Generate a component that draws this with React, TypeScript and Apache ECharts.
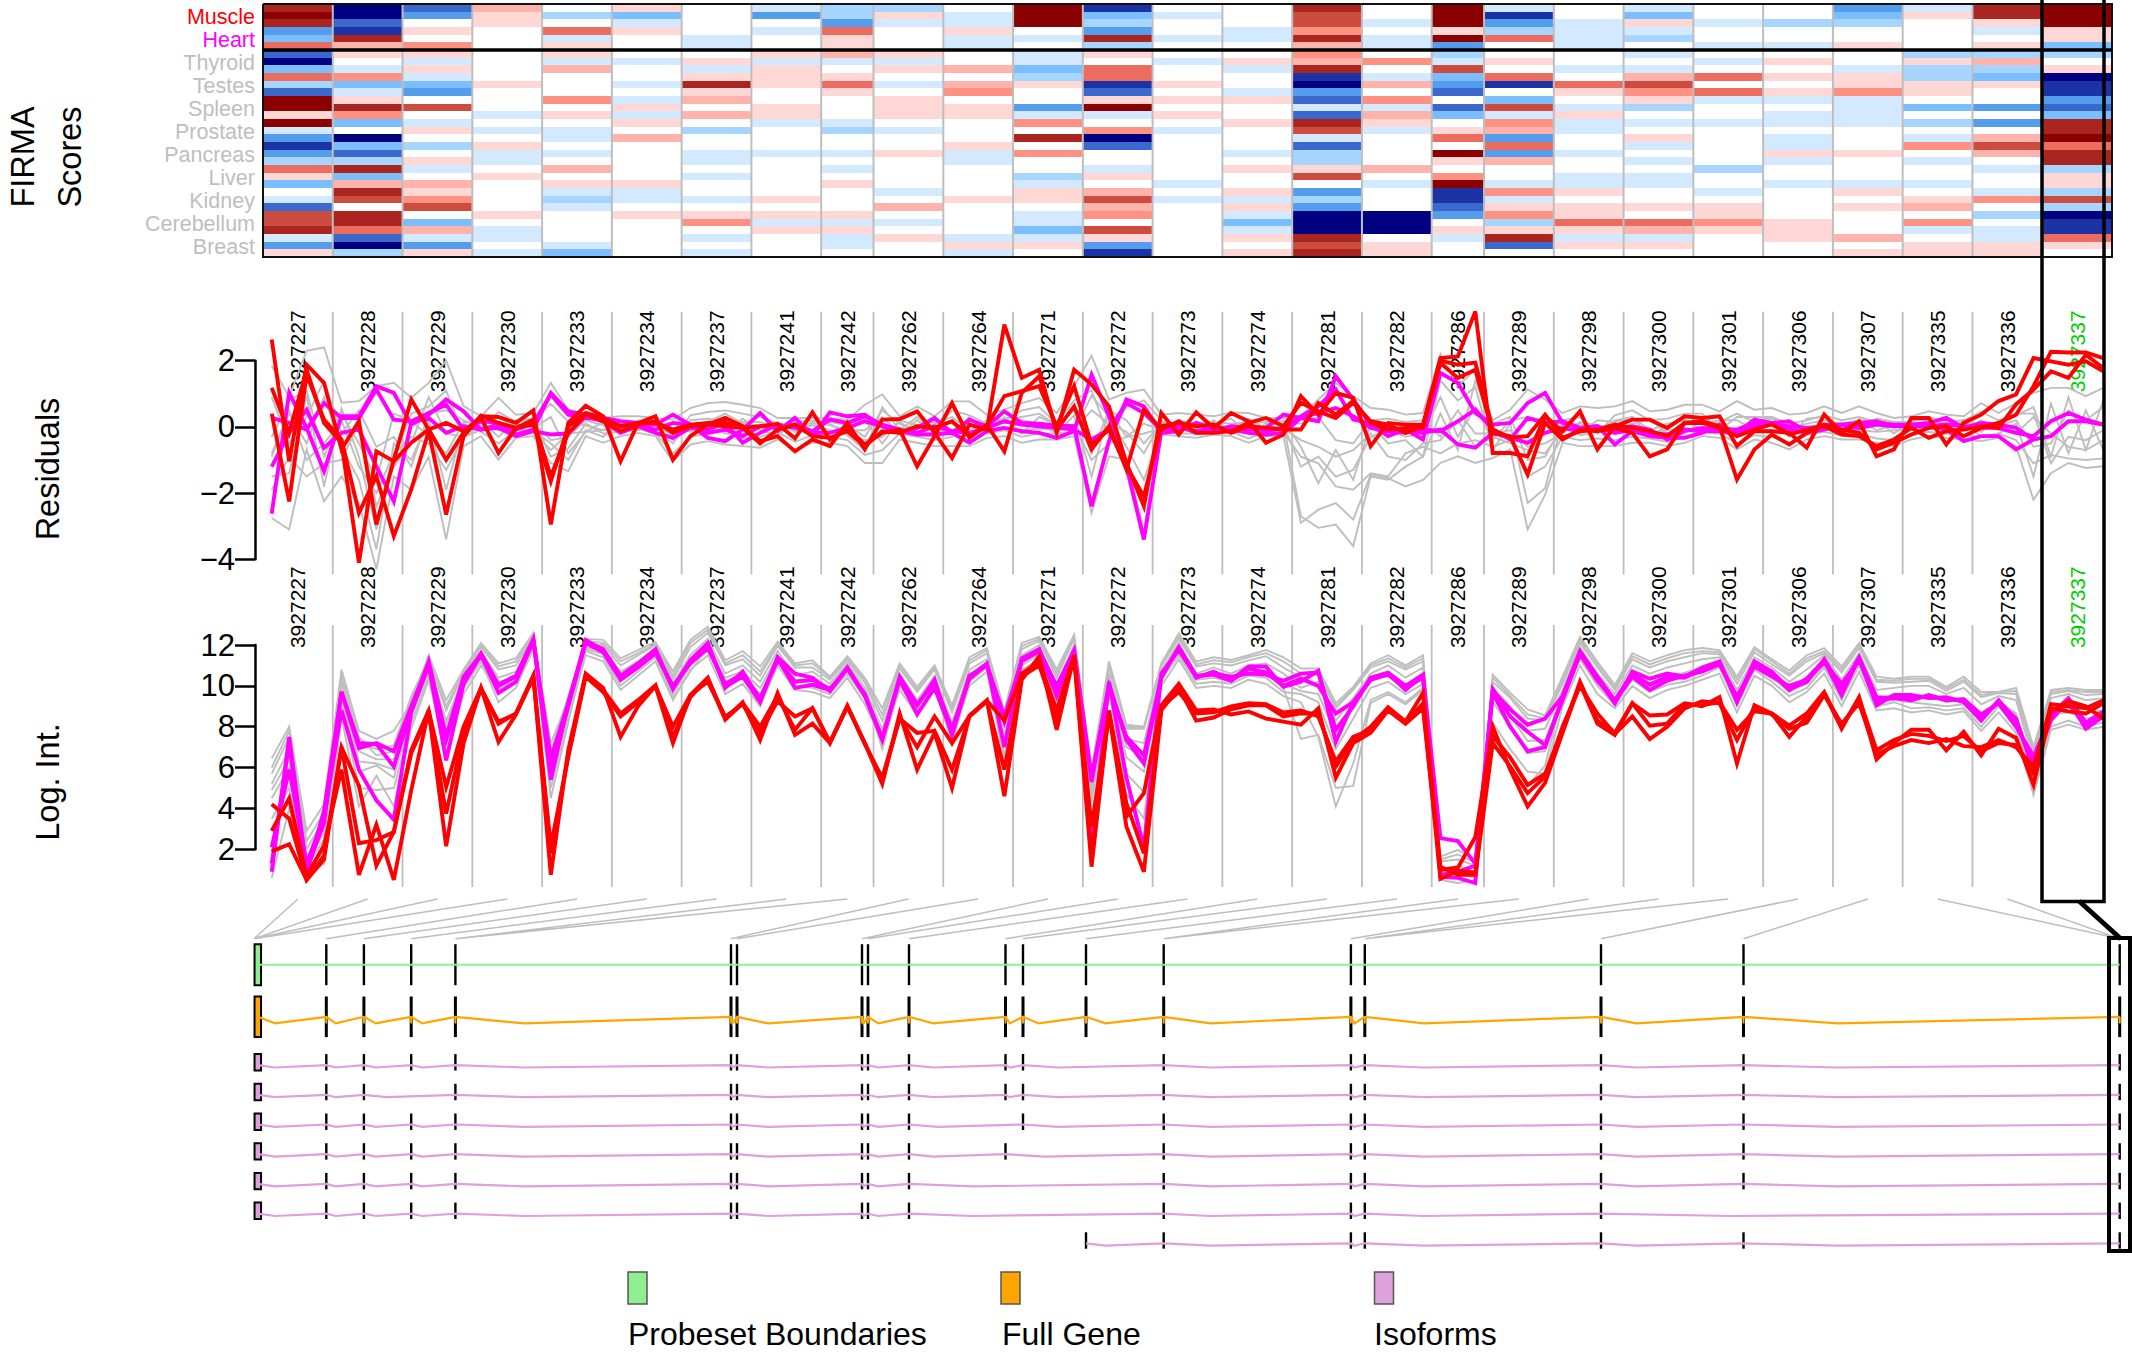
import React, { useEffect, useRef } from "react";
import * as echarts from "echarts";

const probesetIds = ["3927227","3927228","3927229","3927230","3927233","3927234","3927237","3927241","3927242","3927262","3927264","3927271","3927272","3927273","3927274","3927281","3927282","3927286","3927289","3927298","3927300","3927301","3927306","3927307","3927335","3927336","3927337"];
const probesPerSet = [4,4,4,4,4,4,4,4,3,4,4,4,4,4,4,4,4,3,4,4,4,4,4,4,4,4,4];
const tissues = ["Muscle","Heart","Thyroid","Testes","Spleen","Prostate","Pancreas","Liver","Kidney","Cerebellum","Breast"];
const tissueColors = ["#FF0000","#FF00FF","#BEBEBE","#BEBEBE","#BEBEBE","#BEBEBE","#BEBEBE","#BEBEBE","#BEBEBE","#BEBEBE","#BEBEBE"];
const residualTicks = [-4,-2,0,2];
const intensityTicks = [2,4,6,8,10,12];

// FIRMA level per probeset column (33 samples, 3 per tissue)
const firma = [
[6,7,6,-4,-3,4,-5,-7,-3,4,-2,-5,7,7,1,7,-1,-4,-6,-4,-2,4,1,-3,0,-1,-5,5,5,6,-1,-4,1],
[-7,-7,-5,-6,6,2,1,0,-1,3,-3,-1,1,6,3,-3,0,-7,-3,-5,-2,6,-3,2,6,5,0,6,6,4,-5,-7,-2],
[-5,-4,0,1,0,3,1,-1,1,-1,-3,-4,0,5,0,-1,1,0,-2,0,1,-1,0,2,1,3,5,0,-3,2,-1,-4,1],
[2,1,1,0,0,0,0,0,0,0,1,0,0,0,-1,0,-1,0,1,-1,-1,0,1,0,0,0,0,1,0,-1,-1,0,-1],
[0,-2,0,4,-1,1,1,-1,2,0,0,0,3,0,1,0,-1,-1,0,-1,0,2,0,1,-1,-2,-1,0,0,0,0,-1,-3],
[1,-3,-1,1,0,0,0,-1,0,0,-1,0,-1,1,-1,1,0,2,0,0,0,0,0,1,-1,-1,0,1,0,0,0,0,0],
[0,0,0,0,-1,-1,0,1,-1,1,6,1,2,0,2,0,-2,0,0,-1,-1,0,-1,0,0,-1,0,1,3,0,-1,0,-1],
[-1,-4,0,-1,0,0,1,-1,1,1,1,0,0,1,1,-1,0,0,0,-1,0,0,0,0,0,1,0,1,-1,1,0,0,0],
[-2,-2,-4,4,1,1,2,-1,0,1,4,1,0,0,0,-1,-2,0,0,-1,0,-1,0,1,0,0,0,1,-1,1,-1,-1,0],
[-2,1,-1,0,0,0,1,-1,1,0,-1,0,1,1,1,0,-1,0,0,1,0,0,0,0,-1,0,2,0,-1,0,1,0,0],
[0,-1,-1,1,-1,-1,0,0,2,0,2,3,0,1,1,0,0,0,1,-1,-1,0,0,0,0,1,0,0,0,0,-1,1,-1],
[7,7,7,0,-1,0,-1,-1,-3,-2,1,0,0,-4,-1,3,0,6,0,3,0,0,-2,-1,1,1,0,-1,-1,-3,-1,1,0],
[-6,-3,-2,-4,6,-2,1,0,4,4,-6,-5,1,7,-1,0,3,-7,-5,0,0,-1,1,0,2,5,2,3,0,5,1,-4,-6],
[0,-1,0,0,-1,0,0,-1,0,0,1,0,1,0,1,0,-1,0,0,0,0,0,0,-1,0,-1,0,0,0,0,0,0,0],
[0,0,0,-1,-1,0,0,1,-1,0,0,-1,1,0,0,1,0,0,0,-1,0,1,0,0,1,-1,1,-1,-3,-1,1,0,1],
[6,5,5,3,6,2,3,2,6,-6,-7,-4,-5,-1,-5,6,5,-1,-5,-2,-2,1,5,0,-4,-2,-4,-7,-7,-7,6,5,6],
[0,0,-1,0,-1,-1,0,3,0,-1,2,0,3,-1,2,1,-1,0,0,0,0,2,0,-1,0,0,0,-7,-7,-7,0,1,1],
[7,7,7,1,7,-4,-2,-1,5,-3,-4,-5,0,-5,-3,0,1,4,0,7,1,0,3,7,-6,-6,-5,-4,0,1,-1,0,0],
[-1,-6,-4,-2,4,0,0,1,0,4,-6,0,-3,5,-1,3,2,-4,4,-4,2,0,0,-1,3,-1,1,3,-2,1,6,-5,0],
[0,0,-1,-1,-1,-1,0,0,-1,0,4,1,0,-1,1,-1,-1,0,0,-1,0,0,-1,-1,1,0,1,1,4,1,-1,1,0],
[-1,-3,1,-1,-2,0,-1,0,-1,2,5,3,1,-2,0,-1,0,1,-1,0,-1,0,-1,-1,0,0,1,0,4,2,-1,1,0],
[0,0,-1,0,0,-1,0,-1,0,4,0,4,-1,0,0,-1,0,0,0,0,0,-2,0,0,-1,0,1,1,3,1,0,0,0],
[0,0,-2,0,0,-1,0,1,0,1,0,1,-1,0,-1,-1,0,-1,-1,1,-1,0,0,-1,0,0,0,0,1,1,1,0,0],
[-4,-3,-2,0,0,1,0,0,-1,1,1,3,-1,-1,-1,-1,0,0,0,1,0,0,0,-1,1,0,1,0,0,0,2,0,1],
[-1,1,0,0,0,0,-2,1,-2,-2,1,1,0,-3,0,-2,0,-1,3,0,-1,0,0,-1,0,1,2,0,3,-1,0,1,1],
[6,6,1,-1,0,1,-2,2,-2,-3,1,0,0,-4,0,-4,0,2,5,2,0,-1,0,0,-1,3,0,-2,0,-1,-1,1,1],
[7,7,7,1,1,-3,-2,0,1,-7,-6,-6,-4,-5,-3,6,6,7,4,6,6,-2,1,1,-2,5,-2,-7,-6,-6,4,1,0],
];
const firmaPalette: Record<string,string> = {"-7":"#000080","-6":"#1C33A6","-5":"#3A68CC","-4":"#549DEC","-3":"#7ABEFF","-2":"#A6D5FF","-1":"#D2E9FF","0":"#FFFFFF","1":"#FFD8D6","2":"#FFB3AB","3":"#FF9183","4":"#EC6C5F","5":"#CC4C40","6":"#AA2520","7":"#8B0000"};

// Residuals, one value per probe
const resRed1 = [2.64,-1.04,1.88,1.33, -.68,.17,-2.95,-.99, .83,-.08,-.99,-.18, .32,.3,.12,.5, -2.95,.12,.64,.32, -1.04,.12,.32,-.99, -.28,.07,.27,.02, -.43,-.28,-.74,-.38, -.58,.12,-.68, .22,.24,.47,-.18, -.94,.07,-.08,3.09, 1.48,1.73,-.18,1.73, 1.28,.62,-1.09,-2.4, .42,-.23,.44,-.03, .42,.17,-.48,-.23, .93,.37,1.03,.88, -.58,.12,.07,.07, 2.08,2.13,3.49, -.79,-.79,-.89,.32, -.13,.47,-.68,.02, .22,.22,-.03,.32, .27,.32,-.58,-.13, -.13,-.18,-.63,.37, -.18,.17,-.89,-.68, .27,.27,-.53,.12, .37,.78,.98,2.08, 1.98,1.88,1.98,1.68];
const resRed2 = [1.18,-.18,1.73,.12, -.48,-4.1,-.74,-1.04, -.48,-.08,.12,-.13, .27,-.79,-.03,.07, -1.65,.02,.42,.27, .02,.12,.12,-.08, .07,.12,.12,-.03, .02,.09,-.35,.44, -.38,-.03,-.53, -.18,-.08,-1.19,-.28, .72,-.33,.07,-.74, 1.03,1.53,-.08,.62, -.68,.02,-1.29,.52, -.08,.17,-.18,-.18, -.13,.12,.27,.02, .73,.47,.27,.73, .17,.07,-.18,.02, 1.93,1.48,1.73, -.18,-.28,-1.44,.12, -.38,-.08,-.13,-.03, -.18,-.89,-.68,.12, .17,.02,-1.59,-.68, -.23,-.53,-.18,.07, -.08,-.18,-.68,-.48, -.23,-.03,.02,-.28, -.03,.12,.37,1.23, 2.27,2.25,2.25,2.08];
const resRed3 = [.4,-2.25,1.58,.22, -.38,-2.6,-1.49,-3.3, -1.89,-.13,-2.65,-.28, .34,.12,-.03,.22, -1.49,-.18,.37,.17, -.13,.07,.17,-.18, .02,.07,.02,-.03, -.5,-.08,.07,-.28, -.33,-.13,-.58, -.13,-.18,.02,-.03, .17,-.28,.02,.93, 1.08,1.23,.02,1.23, -.53,-.08,-1.19,-2.1, .02,.12,.02,.07, -.18,.02,-.03,-.08, -.08,.72,.37,.78, .12,-.08,-.03,-.03, 2.0,1.88,1.94, -.08,-.33,-.28,.37, -.33,-.13,-.08,.07, -.03,-.13,-.28,.12, .12,-.03,-.28,-.08, .08,-.23,-.08,.02, -.23,-.28,-.58,-.38, -.03,-.33,-.13,-.08, .02,-.03,.68,1.13, 1.68,1.48,2.18,1.78];
const resMag1 = [-2.62,1.03,-.03,-1.34, .32,.32,1.23,1.03, .07,.37,.83,.47, -.08,.07,-.23,-.08, 1.03,.47,.37,.27, .17,.12,.07,.37, .07,-.33,-.43,-.08, .42,-.13,.27,-.28, .44,.32,.37, .02,-.18,-.03,.27, -.18,.22,.02,.47, .12,.1,.04,.02, -2.4,-.43,.83,.62, -.18,-.13,.12,-.08, -.03,-.08,-.03,.37, .27,.17,1.53,.83, .07,-.28,-.08,-.38, 1.63,1.33,.42, .07,.12,.72,1.03, .12,-.03,.02,-.53, -.13,-.28,-.33,-.33, -.18,.07,-.18,.22, .12,.17,-.13,.07, .07,.12,.17,.02, .07,.02,-.08,-.43, -.28,-.28,-.68,-.38];
const resMag2 = [-1.2,-.18,.52,-.63, -.18,-.08,-1.19,-2.25, .13,.27,-.18,.02, -.08,-.03,-.28,-.13, -.23,-.2,.32,.17, -.18,.02,-.18,-.33, -.03,-.08,.12,-.48, -.18,.07,-.03,-.18, -.18,-.03,.17, .02,-.13,-.23,-.23, -.18,-.48,-.13,-.03, -.13,-.18,-.33,-.13, 1.58,.32,-1.19,-3.4, -.13,-.03,-.13,-.03, -.08,-.18,-.23,-.18, .27,.42,.57,.32, -.03,-.13,-.18,-.08, -.13,.17,.52, -.08,-.38,.27,.12, .17,-.03,.02,-.18, -.08,-.18,-.23,-.08, -.13,-.13,-.23,.02, .12,-.08,-.18,-.08, .07,-.03,.07,.02, .02,.02,.07,.02, -.03,-.03,-.18,-.28, .17,.42,.22,.07];
const resMag3 = [.27,.12,-.08,.72, .27,.27,1.13,.22, .17,.42,.67,-.08, .17,.12,-.08,.12, .98,.37,.27,.22, .02,.07,-.08,.12, .07,-.18,-.08,-.28, .02,-.03,.07,-.13, .22,.12,.32, .07,-.08,-.18,.02, -.13,-.18,-.03,.17, .07,.02,-.03,-.08, -.38,-.08,.72,.42, -.08,.02,-.18,-.13, .02,-.03,-.13,-.03, .32,.62,1.13,.22, .12,-.03,-.13,-.18, -.08,-.53,-.63, -.18,-.33,-.48,-.18, -.03,-.13,-.03,-.08, .02,-.08,-.38,-.13, -.03,-.08,-.08,.12, .07,.02,-.03,.02, -.08,.02,.12,.07, .07,.12,.27,-.03, .12,.07,-.03,-.38, -.28,.17,.17,.07];
const resGray1 = [1.85,.9,2.3,2.4, .73,.78,1.23,1.33, .88,1.33,2.0,.63, .32,.88,.37,.42, 1.33,.52,.37,.27, .32,.32,.27,.22, .57,.72,.75,.67, .57,.27,.27,.27, .27,.22,.67, .98,.32,.62,.32, .77,.77,.37,.52, .72,.87,.42,1.23, 2.15,.83,1.03,1.13, .37,.42,.37,.32, .44,.42,.27,.27, .32,.83,1.33,.93, .57,.52,.37,.42, 2.2,1.23,1.73, .2,.52,1.13,.83, .42,.62,.57,.62, .78,.47,.52,.67, .67,.47,.78,.52, .57,.37,.42,.62, .42,.62,.42,.27, .32,.47,.37,.32, .72,.42,.72,1.03, 1.18,1.18,.93,1.18];
const resGray2 = [-2.75,-3.1,-.68,-2.25, -1.5,-2.3,-4.3,-1.5, -1.9,-.9,-3.4,-.58, -.28,-.99,-.33,-.28, -1.09,-1.34,-.28,-.48, -.28,-.18,-.28,-1.04, -.53,-.43,-.53,-.58, -.63,-.38,-.68,-.48, -.48,-.58,-1.09, -1.09,-.38,-.48,-.58, -.58,-.58,-.33,-.28, -.48,-.38,-.38,-.28, -2.6,-.89,-.99,-3.1, -.23,-.28,-.33,-.23, -.28,-.48,-.28,-.28, -2.9,-2.5,-2.3,-2.8, -1.45,-1.55,-1.8,-1.6, -1.09,-.89,-1.09, -.94,-.68,-3.1,-2.05, -.48,-.58,-.58,-.58, -.48,-.48,-.58,-.48, -.28,-.33,-.68,-.38, -.48,-.68,-.38,-.28, -.38,-.38,-.48,-.58, -.38,-.28,-.33,-.38, -.43,-.33,-.58,-2.2, -1.4,-1.09,-1.24,-1.19];
const resGray3 = [-1.5,-1.4,.95,-1.8, .55,-.9,-3.1,-.95, .4,.62,1.1,-.28, .2,-.3,.2,.25, -.9,-.65,.1,-.2, -.15,.2,.05,-.4, .35,.45,.5,.4, .3,.1,-.3,.1, .1,-.25,-.7, .6,-.1,.3,-.1, .5,.35,.1,.2, .5,.6,.1,.8, 1.1,-.3,.6,.8, .2,-.1,.15,.1, .25,-.2,.1,.1, -2.7,-3.05,-2.95,-3.6, -1.5,-1.6,-1.2,-.9, 1.4,.8,1.2, -.7,.1,-2.3,-1.85, .2,.3,-.2,.35, .5,.2,.25,.4, .4,-.1,.3,.3, .3,.1,.2,.35, .2,.3,.15,.15, .15,.3,.15,.2, .45,.2,.35,.6, -.9,.9,-.7,.8];
const resGray4 = [-.8,.4,-.5,.9, -.6,-1.6,-3.7,-.5, -1,.2,-1.9,.1, -.15,-.5,-.1,-.1, -.5,-1,-.1,-.3, .15,-.05,-.2,-.8, -.3,-.2,.3,-.35, -.3,-.15,-.45,-.25, -.3,-.4,-.85, -.7,-.2,-.3,-.4, -.3,.3,-.2,-.1, -.3,-.2,-.2,-.15, .95,.3,-.6,-1.6, -.1,-.2,-.2,-.1, -.15,-.35,-.15,-.15, -.9,-1.1,-1.8,-1.9, -1.4,-1.5,-.8,-.6, -.8,-.5,-.4, -.6,-.4,-1.5,-1.2, -.3,-.4,-.35,-.4, -.3,-.35,-.45,-.3, -.15,-.2,-.5,-.25, -.3,-.5,-.25,-.15, -.25,-.2,-.35,-.4, -.25,-.15,-.2,-.25, -.3,-.2,-.4,-1.1, -.85,-.95,-1,-.95];
const resGray5 = [-.3,.8,1.1,-.9, .4,-.5,-1.6,.4, .2,-.3,-.8,.15, .1,.3,-.05,.15, -.4,-.3,.2,.05, -.05,.15,-.1,-.5, .2,.25,.2,.15, .15,-.1,.05,-.1, .15,.05,-.3, .5,.1,-.15,.1, .3,-.1,.15,.25, .3,.4,.05,.5, -.8,.5,.2,-.5, .1,.1,-.05,.15, .1,.15,-.1,.05, -1.2,-.9,-1.5,-1.3, -.3,-.1,-.3,-.2, .9,-.3,.6, -.4,.2,.3,.2, .1,-.2,.2,.15, .3,-.1,.1,.2, .1,.2,.2,-.1, .15,-.1,.1,.2, .1,.2,-.1,.05, .1,.1,.05,.1, .1,.05,.2,-.6, -.5,.5,.2,.6];
const resGray6 = [-1.9,-.9,-1.5,-1.1, -1,.1,-2.4,-1.2, -.5,.9,-.2,-.3, .05,-.1,.1,-.05, .3,-.8,-.15,-.1, .05,-.1,.05,-.25, -.1,.05,-.2,-.2, -.2,.05,-.1,.05, -.1,-.2,-.4, -.3,.15,-.2,-.2, -.2,.05,-.1,0, -.1,-.05,-.1,.05, -1,-.5,-.3,-.2, -.05,-.1,.1,-.1, -.1,-.1,.05,-.05, -.4,-.6,-.9,-.7, -.2,-.9,-1,-.5, -.4,.2,-.6, -.3,-.5,-.7,-.8, -.1,.1,-.1,-.2, -.1,-.2,-.1,-.1, -.05,-.1,-.15,-.1, -.1,-.2,-.05,.05, -.05,-.1,-.15,-.1, -.1,-.05,-.05,-.1, .2,-.1,-.2,.3, -.2,-.6,-.7,-.4];
const resGray7 = [.9,-.5,.3,1.4, -.2,.5,-.6,-.3, -1.2,.4,.5,.2, -.05,.45,.15,.2, .7,.15,.05,-.1, .1,-.1,.1,.1, -.15,.15,.4,.1, .05,.15,-.15,.15, -.2,.1,.2, -.5,.2,.05,.15, .1,-.25,.2,.1, .2,.1,-.2,.35, -1.5,.5,-.3,.1, -.1,.2,.1,-.05, .05,.1,.15,.1, .1,.3,-.4,-.5, .2,.25,.15,.2, -.3,.5,-.2, -.2,-.1,-.6,-.5, -.2,.15,.05,-.1, .1,.25,-.2,.1, .2,.1,-.2,.1, .25,.15,-.1,.1, .1,.2,.2,-.2, .2,.2,.1,.2, -.15,.2,.4,.4, -1.1,-.3,-.4,-.1];
const resGray8 = [-.9,.5,-1,-.5, .2,-1.2,-2,-.8, -.3,-.5,-1.3,-.3, -.1,.1,.05,-.15, -.7,-.2,-.15,.15, -.1,.05,.2,-.1, .1,-.1,-.15,.25, -.1,-.25,.15,.2, .05,-.1,-.1, .3,-.2,.2,-.15, -.1,.1,-.1,.3, -.2,.3,.05,-.1, .5,.1,-.15,-.8, .15,.05,-.05,.2, -.1,.25,-.05,.2, -.6,-1.7,-.7,-1.6, .1,-.5,-.4,-.9, .4,-.7,1.4, .1,.3,-1,-.9, .05,-.25,-.15,.2, .3,-.3,.05,.25, -.1,.15,.4,.15, .3,-.3,.25,.3, -.1,-.15,.25,.15, -.1,.25,-.2,.2, -.3,-.2,.1,-1.5, .7,-.8,.5,-.7];

// Log intensities, one value per probe
const logRed1 = [4.2,3.5,.5,1.5, 7,2.3,2.45,2.85, 6.85,8.8,5.05,8, 9.9,8.15,8.65,10.5, .75,6.85,10.6,9.9, 7.5,9,10,7.2, 9.55,10.4,8.4,9.2, 7.35,9.65,7.6,8.15, 7.2,9,7.2, 5.2,8.65,5.9,7.7, 5,8.55,9.3,4.6, 10.3,11.45,7.85,11.45, 1.15,8.8,3.6,4.75, 9.05,10.1,8.8,8.85, 8.6,8.75,8.4,8.25, 8.1,8.9,5.5,7.2, 7.7,8.8,8.15,8.9, 1,1.1,2.6, 8,5.9,4.1,5.25, 7.7,10.1,8.15,7.6, 9.15,8.55,8.6,9.15, 9,9.45,6.2,9.05, 8.65,7.5,8.5,9.65, 7.9,9.45,6.4,7.2, 7.85,7.85,6.85,7.75, 6.6,7.9,7.45,5.15, 8.75,9.25,9,8.4];
const logRed2 = [2.9,4.5,.7,2.2, 5.9,.75,3.2,.5, 4.9,8.8,2.15,7.2, 9.9,7.25,8.6,10.5, 2.15,6.5,10.45,9.7, 8.5,9.2,10,8, 9.55,10.2,8.5,9.1, 7.7,9.25,8.5,8.9, 7.2,9,7.2, 5.35,8.4,7.7,7.8, 5.9,8.5,9.25,5.9, 10.45,11,8.5,11.4, 3.1,8.65,3.1,.9, 8.8,9.9,8.3,8.45, 8.85,9.05,9.05,8.5, 8.65,8.65,6.05,7.35, 8,8.95,8.25,9.65, 1.15,.75,.75, 7.2,6.05,4.75,5.55, 8,10,8.65,7.65, 8.5,7.4,8,8.9, 9.25,9.15,7.35,8.95, 8.6,7.9,8.2,9.55, 8.15,9.15,6.65,7.05, 7.35,7.2,7.4,7.05, 7,7.35,7,6.05, 8.9,8.75,8.65,9.15];
const logRed3 = [1.9,2.25,.5,1.7, 7,5.1,1.2,2.85, 6.7,8.65,3.75,7.7, 9.85,8.25,8.62,10.4, 1.8,6.65,10.55,9.8, 8.65,9.3,10.03,7.5, 9.45,10.35,8.35,9.15, 8,9.5,7.85,8.9, 7.25,9.02,7.15, 5.5,8.45,7,8.5, 7.2,8.52,9.27,8.3, 10.6,11.2,8.8,11.5, 1.65,8.75,4.25,1.8, 8.95,9.7,8.65,8.7, 9,9.15,9.1,8.7, 8.8,8.5,6.3,7.5, 7.85,8.85,8.2,9.15, .55,.95,.85, 7.55,6.5,5.15,5.7, 7.8,10.2,8.3,7.7, 9.15,8.05,8.15,9.1, 9.05,9.2,7.85,8.75, 8.65,8.05,8.65,9.7, 8,9.4,6.85,7.35, 7.65,7.55,7.3,7.55, 6.8,7.2,7.1,5.7, 9.1,9,8.9,9.3];
const logMag1 = [.9,7.5,1,3.3, 9.7,6.95,7.2,6.8, 9,11.1,7.35,10.3, 11.6,10.05,10.5,12.3, 5.4,9.15,12.25,11.75, 10.4,11,11.7,9.9, 11.25,12.1,9.9,10.7, 9.3,11.35,9.9,10.05, 9.8,10.9,9.55, 7.35,10.35,9.05,10.3, 7.6,10.45,11.1,7, 11.35,11.8,9.55,11.75, 5.3,10.1,7.35,6.2, 10.5,11.85,10.4,10.7, 10.3,10.95,10.95,9.95, 10.2,10.75,7.25,9.2, 10.3,10.6,9.8,10.5, 2.55,2.4,1.3, 9.65,8,6.8,7, 9.4,11.65,10.35,9.15, 10.7,10.35,10.6,10.45, 10.9,11.2,9.2,11.1, 10.6,9.8,10.35,11.25, 9.55,11.35,9.05,9.55, 9.55,9.4,9.45,9.2, 8.3,9.3,8.3,6.05, 8.3,9.3,7.9,8.5];
const logMag2 = [2.1,5.9,1.3,3.6, 8.8,5.9,4.4,3.45, 8.7,11,6.35,10.1, 11.5,9.65,10.2,12.2, 6.45,9.15,12.1,11.65, 10.3,10.9,11.6,10, 11.1,11.85,10.1,10.6, 9.4,11.25,10.2,10.3, 9.85,10.85,9.5, 7.45,10.3,8.6,9.9, 7.7,10.5,11,8.5, 11.2,11.7,9.5,11.7, 2.1,10.2,5.5,2.1, 10.6,11.75,10.45,10.6, 10.45,10.6,10.55,10.25, 10.6,10.65,7.85,9, 10.4,10.65,10,10.55, .65,.6,.35, 9.85,8.5,7.75,7.1, 9.3,11.55,10.25,9.25, 10.45,9.8,10.25,10.5, 10.7,11.05,9.5,10.95, 10.45,10,10.3,11.15, 10.1,11.25,9.3,9.4, 9.3,9.55,9.3,9.35, 8.6,9.15,8,6.55, 8.5,9.15,8.05,8.65];
const logMag3 = [1.3,7.2,.8,3.9, 9.7,7.2,7.15,6.05, 8.85,11.2,7.5,10.45, 11.55,10,10.45,12.25, 5.9,9,12.15,11.8, 10.5,11.1,11.8,9.85, 11.2,12,9.95,10.45, 9.2,11.4,10.6,10.4, 9.75,10.85,9.6, 7.4,10.45,9.1,10.15, 7.9,10.35,11.05,8.25, 11.3,11.75,10,11.75, 5.55,10,7.5,6.6, 10.4,11.9,10.5,10.55, 10.25,10.85,10.65,10, 10.35,10,8.65,9.2, 10.3,10.55,9.9,10.4, .75,.9,1.2, 9.75,8.85,8.1,8.4, 9.5,11.7,10.45,9.3, 10.6,10.05,10.45,10.4, 10.8,11.15,9.35,11.2, 10.7,9.85,10.2,11.3, 9.9,11.4,9.45,9.4, 9.45,9.45,9.35,9.3, 8.45,9.2,8.4,5.85, 8.6,9.4,8.2,8.75];
const logGray1 = [6.45,8,2.9,4.2, 10.8,7.8,7.4,7.8, 9.15,11.5,9.3,10.8, 12.1,11.1,11.35,12.6, 7.2,9.3,12.3,12.25, 11.35,11.75,12.15,10.7, 12.25,12.9,11.25,11.7, 10.95,12.15,11.1,11.25, 10.45,11.45,10.4, 8.9,11.1,9.95,11, 9.05,11.4,11.85,8.8, 12.1,12.4,10.8,12.5, 5.9,11.2,8.1,8, 11.1,12.57,11.18,11.4, 11.27,11.5,11.75,11.4, 10.85,10.85,9.15,9.95, 11.1,11.5,11,11.5, 1.64,1.97,1.48, 10.55,9.65,8.85,8.55, 10.45,12.4,11.18,10.05, 11.6,11.2,11.5,11.75, 11.85,11.75,10.45,11.9, 11.3,10.75,11.5,11.85, 10.95,12.1,10.45,10.35, 10.45,10.45,9.95,10.45, 9.7,9.7,9.9,7, 9.8,9.9,9.8,9.8];
const logGray2 = [5.7,7.5,2,3.5, 10.2,7.2,6.9,7.1, 9.5,11.3,8.8,10.6, 11.9,10.8,11,12.4, 6.8,9.5,12.05,12, 11,11.5,12,10.3, 11.9,12.6,11,11.3, 10.5,11.95,10.9,10.9, 10.3,11.25,10.15, 8.3,10.85,9.7,10.8, 8.7,11.1,11.6,8.2, 11.8,12.2,10.4,12.3, 5.6,10.9,7.9,7.9, 11,12.3,10.95,11.1, 11,11.25,11.45,10.9, 10.4,10.55,8.9,9.8, 10.9,11.2,10.8,11.2, 1.4,1.5,1.2, 10.2,9.4,8.4,8.3, 10.1,12.1,10.9,9.8, 11.3,10.9,11.2,11.4, 11.6,11.55,10.1,11.65, 11.05,10.5,11.2,11.6, 10.65,11.85,10.2,10.15, 10.2,10.25,9.75,10.2, 9.45,9.65,9.6,6.6, 9.6,9.75,9.55,9.6];
const logGray3 = [5.2,6.9,1.6,3, 9.9,6.8,6.4,6.4, 9.1,11,8.3,10.4, 11.7,10.4,10.7,12.1, 6.3,9,11.9,11.7, 10.7,11.2,11.8,10.1, 11.5,12.3,10.6,11, 10.2,11.7,10.5,10.7, 10.1,11.1,9.9, 7.9,10.6,9.3,10.5, 8.2,10.8,11.3,7.6, 11.5,12,10,12, 5.2,10.6,7.4,7.2, 10.8,12.1,10.6,10.9, 10.6,11,11.1,10.6, 9.9,10.2,8.3,9.4, 10.6,11,10.4,10.9, 1,1.2,.9, 9.9,9,7.8,7.9, 9.8,11.9,10.6,9.6, 11,10.6,10.9,11.1, 11.3,11.4,9.8,11.4, 10.9,10.2,10.8,11.5, 10.3,11.6,9.8,9.9, 10,10,9.6,9.9, 9.1,9.5,9.3,6.3, 9.4,9.6,9.3,9.4];
const logGray4 = [4.5,6,1.1,2.5, 9.4,5.8,6.1,5.5, 8.6,10.7,7.9,10.2, 11.45,9.9,10.1,12, 5.7,8.7,11.7,11.4, 10,10.7,11.4,9.6, 11,11.7,10.2,10.4, 9.6,11.2,10,9.9, 9.6,10.6,9.4, 7.6,10.1,8.9,10.1, 7.8,10.2,10.9,7, 11,11.55,9.3,11.6, 4.7,10,6.5,5.8, 10.3,11.5,10.1,10.2, 10.1,10.5,10.4,9.7, 9.6,9.2,6.9,8.4, 9.9,10.2,9.6,10.1, .7,.8,.6, 9.2,8,6.7,6.8, 9.3,11.3,10,9.05, 10.3,9.7,10.05,10.2, 10.5,10.9,9,10.8, 10.2,9.5,9.9,10.9, 9.3,11,9,9.2, 8.9,8.95,8.8,8.9, 8,9,8,5.2, 8,8.3,8,8.2];
const logGray5 = [3.5,5,.9,2, 9,5,4.9,5, 8.2,10.5,7.2,9.9, 11.2,9.2,9.9,11.8, 5,8.4,11.5,11.2, 9.8,10.5,11.2,9.3, 10.8,11.5,9.6,10.1, 9,11,9.8,9.7, 9.4,10.4,9.1, 7.3,9.8,8.6,9.9, 7.4,10,10.7,6.6, 10.8,11.3,9,11.4, 3.5,9.6,5.7,4.8, 10,11.3,9.9,10, 9.9,10.3,10.1,9.5, 9.2,7.5,4.1,6.2, 9.3,9.7,9.2,9.9, .5,.35,.5, 8.2,6.9,5.8,5.7, 9,11,9.6,8.9, 10,9.4,9.8,10, 10.3,10.6,8.7,10.5, 10,9.2,9.7,10.6, 9,10.7,8.8,8.9, 8.7,8.8,8.6,8.75, 7.8,8.7,7.7,4.65, 7.85,8.1,7.85,8];
const logGray6 = [.6,4,.8,1.3, 8.5,4.1,5.6,4.1, 7.9,10.3,6.7,9.6, 11,9.8,10.3,12.2, 4.5,8.2,11.8,11.9, 10.2,10.9,11.5,9.4, 10.7,11.9,10.1,10.5, 9.5,11.5,10.3,10.1, 9.9,10.8,9.7, 6.9,10,8.8,10.2, 7.1,10.3,11,6.2, 11.2,11.6,9.2,11.8, 4.3,9.8,4.7,3.5, 10.5,11.7,10.3,10.4, 10.2,10.7,10.6,9.9, 7.4,7.6,5,5.1, 9.15,9.6,9.1,9.8, .8,1,.7, 7.4,6.5,5.1,6.1, 9.6,11.5,10.2,9.2, 10.6,10,10.3,10.6, 10.7,11,9.4,11, 10.4,9.7,10.1,11, 9.6,11.2,9.2,9.3, 9.2,9.1,9,9.1, 8.4,9.1,8.6,5.5, 8.6,8.7,8.4,8.5];
const logGray7 = [6,7.8,2.4,3.8, 10.5,7.5,6.6,6.8, 9.3,11.4,9,10.7, 12,10.95,11.2,12.5, 6.6,9.15,12.2,12.1, 11.2,11.6,12.05,10.5, 12.1,12.75,11.1,11.5, 10.7,12.05,11,11.1, 10.4,11.35,10.3, 8.6,11,9.8,10.9, 8.9,11.25,11.75,8.5, 11.95,12.3,10.6,12.4, 5.75,11.05,8,7.95, 11.05,12.45,11.05,11.25, 11.15,11.4,11.6,11.2, 10.6,10.7,9,9.9, 11,11.35,10.9,11.35, 1.5,1.75,1.35, 10.4,9.5,8.6,8.4, 10.3,12.25,11.05,9.9, 11.45,11.05,11.35,11.6, 11.7,11.65,10.3,11.8, 11.2,10.6,11.35,11.7, 10.8,12,10.3,10.25, 10.35,10.35,9.85,10.3, 9.55,9.7,9.75,6.8, 9.7,9.8,9.7,9.7];
const logGray8 = [4.9,6.4,1.4,2.8, 9.6,6.3,6.2,5.9, 8.9,10.85,8.1,10.3, 11.6,10.2,10.4,12.05, 6,8.85,11.8,11.55, 10.35,10.95,11.6,9.8, 11.25,12,10.4,10.7, 9.9,11.45,10.3,10.3, 9.85,10.85,9.65, 7.75,10.35,9.1,10.3, 8,10.5,11.1,7.3, 11.25,11.75,9.6,11.8, 4.95,10.3,7,6.5, 10.55,11.8,10.35,10.55, 10.35,10.75,10.75,10.1, 9.75,9.6,7.6,8.9, 10.25,10.6,10,10.5, .85,1,.75, 9.5,8.5,7.3,7.35, 9.55,11.6,10.3,9.3, 10.65,10.15,10.45,10.65, 10.9,11.15,9.4,11.1, 10.55,9.85,10.35,11.2, 9.65,11.3,9.4,9.55, 9.45,9.5,9.2,9.4, 8.5,9.25,8.65,5.75, 8.7,8.95,8.65,8.8];

// Gene model, positions along the gene
const exonPositions = [4,72.3,109.9,157.2,201.4,477,483,608,614,655,751.5,769,832,909.7,1096.9,1110.8,1347,1489.5,1865.7];
const probesetExon = [0,0,0,0,1,2,3,4,4,5,6,7,8,9,10,11,12,13,13,14,15,15,16,17,18,18,18];
const allExons = exonPositions.map((_, i) => i);
const isoformExons = [
  [0,1,2,3,4,5,6,7,8,9,10,11,13,14,15,16,17,18],
  [0,1,2,4,5,6,7,8,9,10,11,13,14,15,16,17,18],
  [0,1,2,3,4,5,6,7,8,9,11,13,14,15,16,17,18],
  [0,1,2,3,4,5,6,7,8,9,10,13,14,15,16,17,18],
  [0,1,2,3,4,5,6,7,8,9,13,14,15,16,17,18],
  [0,1,2,3,4,5,6,7,8,9,13,14,15,16,18],
  [12,13,14,15,16,17,18],
];

const FONT = "Liberation Sans";
const GRAY = "#BEBEBE", RED = "#FF0000", MAG = "#FF00FF", GREEN = "#90EE90", ORANGE = "#FFA500", PLUM = "#DDA0DD";
const TOTAL = 106;
const LEFT = 263, PLOTW = 1849;
const UNIT = PLOTW / TOTAL;

const starts: number[] = [];
probesPerSet.reduce((acc, n) => { starts.push(acc); return acc + n; }, 0);
const centers = probesetIds.map((_, i) => starts[i] + probesPerSet[i] / 2);

const GAP: [number, number] = [NaN, NaN];
const pts = (v: number[]) => v.map((y, i) => [i + 0.5, y]);
const separators = (y0: number, y1: number) => {
  const out: any[] = [];
  starts.slice(1).forEach((s) => out.push([s, y0], [s, y1], GAP));
  return out;
};
const lineSeries = (name: string, xa: number, ya: number, data: any[], color: string, width: number, extra: any = {}) => ({
  name, type: "line", xAxisIndex: xa, yAxisIndex: ya, data, showSymbol: false, symbol: "none", clip: false, silent: true, animation: false,
  lineStyle: { color, width, join: "miter", cap: "butt" }, itemStyle: { color }, ...extra,
});
const rotatedLabels = (xa: number, ya: number, y: number) => ({
  type: "custom", xAxisIndex: xa, yAxisIndex: ya, clip: false, silent: true,
  encode: { x: 0, y: 1 }, data: centers.map((c) => [c, y]),
  renderItem: (p: any, api: any) => {
    const [x, py] = api.coord([api.value(0), api.value(1)]);
    return { type: "text", x, y: py, rotation: Math.PI / 2, style: { text: probesetIds[p.dataIndex], fontFamily: FONT, fontSize: 21, align: "left", verticalAlign: "middle", fill: p.dataIndex === 26 ? "#00CD00" : "#000" } };
  },
});

function geneTrack(exons: number[], peak: number, trough: number) {
  const out: any[] = [];
  exons.forEach((e, j) => {
    const x = exonPositions[e];
    out.push([x, peak]);
    if (j < exons.length - 1) {
      const nx = exonPositions[exons[j + 1]];
      out.push([x + 0.25 * (nx - x), trough]);
    }
  });
  return out;
}

function buildOption() {
  const series: any[] = [];
  // heat map
  const cells: number[][] = [];
  firma.forEach((col, c) => col.forEach((lvl, r) => cells.push([c, r, lvl])));
  series.push({
    type: "custom", xAxisIndex: 0, yAxisIndex: 0, silent: true, encode: { x: 0, y: 1 }, data: cells,
    renderItem: (_: any, api: any) => {
      const c = api.value(0), r = api.value(1);
      const a = api.coord([starts[c], r]), b = api.coord([starts[c] + probesPerSet[c], r + 1]);
      const x0 = Math.round(a[0]), y0 = Math.round(a[1]), x1 = Math.round(b[0]), y1 = Math.round(b[1]);
      return { type: "rect", shape: { x: x0, y: y0, width: x1 - x0, height: y1 - y0 }, style: { fill: firmaPalette[String(api.value(2))] } };
    },
  });
  series.push({
    type: "custom", xAxisIndex: 0, yAxisIndex: 0, silent: true, clip: false, encode: { x: 0, y: 1 },
    data: tissues.map((_, i) => [0, i * 3 + 1.5]),
    renderItem: (p: any, api: any) => {
      const [x, y] = api.coord([api.value(0), api.value(1)]);
      return { type: "text", x: x - 8, y: y + 1, style: { text: tissues[p.dataIndex], fontFamily: FONT, fontSize: 21.5, align: "right", verticalAlign: "middle", fill: tissueColors[p.dataIndex] } };
    },
  });
  series.push(lineSeries("heat separators", 0, 0, separators(0, 33), GRAY, 2));
  series.push(lineSeries("heat frame", 0, 0, [[0, 0], [TOTAL, 0], [TOTAL, 33], [0, 33], [0, 0]], "#111", 2));
  series.push(lineSeries("heat divider", 0, 0, [[0, 6], [TOTAL, 6]], "#000", 3.5));

  // residuals
  series.push(rotatedLabels(1, 1, 1.05));
  series.push(lineSeries("res separators", 1, 1, separators(3.48, -4.46), GRAY, 1.8));
  [resGray1, resGray2, resGray3, resGray4, resGray5, resGray6, resGray7, resGray8].forEach((v, i) => series.push(lineSeries("res gray " + i, 1, 1, pts(v), GRAY, 1.9)));
  [resMag1, resMag2, resMag3].forEach((v, i) => series.push(lineSeries("res heart " + i, 1, 1, pts(v), MAG, 3.9)));
  [resRed1, resRed2, resRed3].forEach((v, i) => series.push(lineSeries("res muscle " + i, 1, 1, pts(v), RED, 3.9)));

  // log intensities
  series.push(rotatedLabels(2, 2, 11.85));
  series.push(lineSeries("log separators", 2, 2, separators(12.98, 0.16), GRAY, 1.8));
  [logGray1, logGray2, logGray3, logGray4, logGray5, logGray6, logGray7, logGray8].forEach((v, i) => series.push(lineSeries("log gray " + i, 2, 2, pts(v), GRAY, 1.9)));
  [logMag1, logMag2, logMag3].forEach((v, i) => series.push(lineSeries("log heart " + i, 2, 2, pts(v), MAG, 3.9)));
  [logRed1, logRed2, logRed3].forEach((v, i) => series.push(lineSeries("log muscle " + i, 2, 2, pts(v), RED, 3.9)));

  // gene model
  const connectors: any[] = [];
  probesetExon.slice(0, 26).forEach((e, i) => {
    connectors.push([centers[i] * UNIT + LEFT - 254, 0], [e === 0 ? 0 : exonPositions[e], 39.7], GAP);
  });
  series.push(lineSeries("connectors", 3, 3, connectors, GRAY, 1.5));

  const bars: any[] = [];
  const ISO_START = 163.3, ISO_STEP = 29.7;
  allExons.forEach((e) => {
    if (e > 0) {
      bars.push([exonPositions[e], 65.7, 20.5, 2.4, 0]);
      bars.push([exonPositions[e], 117.8, 20.3, 3, 0]);
    }
  });
  isoformExons.forEach((exons, k) => exons.forEach((e) => { if (e > 0) bars.push([exonPositions[e], ISO_START + k * ISO_STEP, 8.2, 2.4, 0]); }));
  bars.push([3.8, 65.7, 20.5, 6.5, 1]);
  bars.push([3.8, 117.8, 20.3, 6.5, 2]);
  isoformExons.forEach((exons, k) => { if (exons[0] === 0) bars.push([3.8, ISO_START + k * ISO_STEP, 8.2, 6.5, 3]); });
  const barFills = ["#000", GREEN, ORANGE, PLUM];
  series.push({
    type: "custom", xAxisIndex: 3, yAxisIndex: 3, silent: true, clip: false, encode: { x: 0, y: 1 }, data: bars,
    renderItem: (_: any, api: any) => {
      const [x, y] = api.coord([api.value(0), api.value(1)]);
      const a = api.coord([api.value(0), api.value(1) - api.value(2)]);
      const w = api.value(3), kind = api.value(4);
      return { type: "rect", shape: { x: x - w / 2, y: a[1], width: w, height: 2 * (y - a[1]) }, style: { fill: barFills[kind], stroke: kind ? "#000" : undefined, lineWidth: kind ? 2 : 0 } };
    },
  });
  series.push(lineSeries("probeset track", 3, 3, [[exonPositions[0], 65.7], [exonPositions[18], 65.7]], GREEN, 2));
  const ticks: any[] = [];
  allExons.forEach((e) => ticks.push([exonPositions[e], 117.8], [exonPositions[e], 124.5], GAP));
  series.push(lineSeries("gene exon ticks", 3, 3, ticks, ORANGE, 2));
  series.push(lineSeries("gene track", 3, 3, geneTrack(allExons, 117.8, 124.4), ORANGE, 2.2));
  isoformExons.forEach((exons, k) => {
    const c = ISO_START + k * ISO_STEP;
    series.push(lineSeries("isoform " + k, 3, 3, geneTrack(exons, c + 2.8, c + 5.2), PLUM, 2.2));
  });

  const hiddenX = (i: number) => ({ type: "value", gridIndex: i, min: 0, max: i === 3 ? 1868 : TOTAL, show: false, splitLine: { show: false } });
  const hiddenY = (i: number, min: number, max: number) => ({ type: "value", gridIndex: i, min, max, inverse: true, show: false, splitLine: { show: false } });
  const tickY = (i: number, ticksArr: number[]) => ({
    type: "value", gridIndex: i, min: ticksArr[0], max: ticksArr[ticksArr.length - 1], interval: 2, offset: 8,
    axisLine: { show: true, onZero: false, lineStyle: { color: "#000", width: 2.5 } },
    axisTick: { show: true, length: 20, lineStyle: { color: "#000", width: 2.5 } },
    splitLine: { show: false },
    axisLabel: { show: true, margin: 20, fontFamily: FONT, fontSize: 31, color: "#000", formatter: (v: number) => String(v).replace("-", "\u2212") },
  });

  const sideText = (text: string, x: number, y: number) => ({ type: "text", x, y, rotation: Math.PI / 2, style: { text, font: `32.5px "${FONT}"`, fill: "#000", align: "center", verticalAlign: "middle" } });
  const legendBox = (x: number, fill: string) => ({ type: "rect", shape: { x, y: 1272, width: 19, height: 32 }, style: { fill, stroke: "#555", lineWidth: 1.5 } });
  const legendText = (text: string, x: number) => ({ type: "text", x, y: 1334, style: { text, font: `32px "${FONT}"`, fill: "#000", align: "left", verticalAlign: "middle" } });

  return {
    animation: false,
    backgroundColor: "#fff",
    grid: [
      { left: LEFT, width: PLOTW, top: 4, height: 253 },
      { left: LEFT, width: PLOTW, top: 360.7, height: 198.6 },
      { left: LEFT, width: PLOTW, top: 645, height: 204.3 },
      { left: 254, width: 1868, top: 899, height: 352 },
    ],
    xAxis: [hiddenX(0), hiddenX(1), hiddenX(2), hiddenX(3)],
    yAxis: [hiddenY(0, 0, 33), tickY(1, residualTicks), tickY(2, intensityTicks), hiddenY(3, 0, 352)],
    series,
    graphic: [
      sideText("FIRMA", 23, 157),
      sideText("Scores", 70, 157),
      sideText("Residuals", 48, 469),
      sideText("Log. Int.", 48, 782),
      { type: "rect", z: 100, shape: { x: 2042, y: -4, width: 62, height: 905.5 }, style: { fill: "none", stroke: "#000", lineWidth: 3.5 } },
      { type: "rect", z: 100, shape: { x: 2109, y: 938, width: 21, height: 313 }, style: { fill: "none", stroke: "#000", lineWidth: 4 } },
      { type: "line", z: 100, shape: { x1: 2079, y1: 901, x2: 2121, y2: 939 }, style: { stroke: "#000", lineWidth: 5 } },
      legendBox(628, GREEN), legendBox(1001, ORANGE), legendBox(1374.5, PLUM),
      legendText("Probeset Boundaries", 628), legendText("Full Gene", 1002), legendText("Isoforms", 1374),
    ],
  };
}

export default function App() {
  const ref = useRef<HTMLDivElement>(null);
  useEffect(() => {
    const chart = echarts.init(ref.current!, undefined, { renderer: "svg" });
    chart.setOption(buildOption() as any);
    return () => chart.dispose();
  }, []);
  return <div ref={ref} style={{ position: "fixed", left: 0, top: 0, width: 2132, height: 1353 }} />;
}
